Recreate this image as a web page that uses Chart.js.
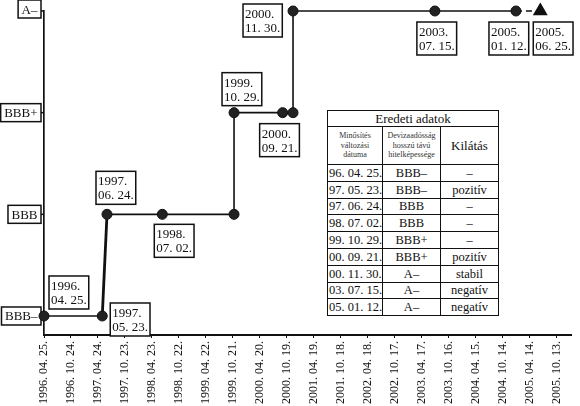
<!DOCTYPE html>
<html>
<head>
<meta charset="utf-8">
<script src="https://cdn.jsdelivr.net/npm/chart.js@4.4.0/dist/chart.umd.min.js"></script>
<style>
html, body { margin: 0; padding: 0; background: #fff; }
#wrap { position: relative; width: 580px; height: 406px; overflow: hidden; }
#tbl {
    position: absolute; left: 327px; top: 110px; width: 171px; height: 205px;
    border-collapse: collapse; table-layout: fixed;
    font-family: "Liberation Serif", "DejaVu Serif", serif; color: #111;
    border: 1.5px solid #111; background: #fff;
}
#tbl td { border: 1px solid #111; padding: 0 1px; text-align: center; font-size: 12.5px; line-height: 14px; white-space: nowrap; overflow: hidden; }
#tbl td.d { text-align: left; }
#tbl tr.head td { font-size: 13px; height: 15px; }
#tbl tr.sub td { height: 37px; font-size: 8px; line-height: 9.5px; color: #333; }
#tbl tr.sub td.big { font-size: 13px; line-height: 14px; color: #111; }
#tbl tr.row td { height: 15.8px; }
</style>
</head>
<body>
<div id="wrap">
    <canvas id="chart" width="580" height="406"></canvas>
    <table id="tbl"></table>
</div>
<script>
// rating levels, bottom to top
const ratingLevels = ['BBB–', 'BBB', 'BBB+', 'A–'];

// drawn rating path (dates where the line bends)
const seriesDates = ['1996-04-25', '1997-05-23', '1997-06-24', '1998-07-02', '1999-10-29', '1999-10-29',
    '2000-09-21', '2000-11-30', '2000-11-30', '2003-07-15', '2005-01-12'];
const seriesRatings = ['BBB–', 'BBB–', 'BBB', 'BBB', 'BBB', 'BBB+', 'BBB+', 'BBB+', 'A–', 'A–', 'A–'];

// expected rating (dashed part with triangle)
const forecastDates = ['2005-01-12', '2005-06-25'];
const forecastRatings = ['A–', 'A–'];

// x axis ticks
const tickDates = ['1996-04-25', '1996-10-24', '1997-04-24', '1997-10-23', '1998-04-23', '1998-10-22',
    '1999-04-22', '1999-10-21', '2000-04-20', '2000-10-19', '2001-04-19', '2001-10-18', '2002-04-18',
    '2002-10-17', '2003-04-17', '2003-10-16', '2004-04-15', '2004-10-14', '2005-04-14', '2005-10-13'];
const tickLabels = ['1996. 04. 25.', '1996. 10. 24.', '1997. 04. 24.', '1997. 10. 23.', '1998. 04. 23.',
    '1998. 10. 22.', '1999. 04. 22.', '1999. 10. 21.', '2000. 04. 20.', '2000. 10. 19.', '2001. 04. 19.',
    '2001. 10. 18.', '2002. 04. 18.', '2002. 10. 17.', '2003. 04. 17.', '2003. 10. 16.', '2004. 04. 15.',
    '2004. 10. 14.', '2005. 04. 14.', '2005. 10. 13.'];

// boxed date labels next to the points
const calloutDates = ['1996-04-25', '1997-05-23', '1997-06-24', '1998-07-02', '1999-10-29',
    '2000-09-21', '2000-11-30', '2003-07-15', '2005-01-12', '2005-06-25'];
const calloutRatings = ['BBB–', 'BBB–', 'BBB', 'BBB', 'BBB+', 'BBB+', 'A–', 'A–', 'A–', 'A–'];
const calloutLabels = [['1996.', '04. 25.'], ['1997.', '05. 23.'], ['1997.', '06. 24.'], ['1998.', '07. 02.'],
    ['1999.', '10. 29.'], ['2000.', '09. 21.'], ['2000.', '11. 30.'], ['2003.', '07. 15.'],
    ['2005.', '01. 12.'], ['2005.', '06. 25.']];

// table "Eredeti adatok"
const tableDates = ['96. 04. 25.', '97. 05. 23.', '97. 06. 24.', '98. 07. 02.', '99. 10. 29.',
    '00. 09. 21.', '00. 11. 30.', '03. 07. 15.', '05. 01. 12.'];
const tableRatings = ['BBB–', 'BBB–', 'BBB', 'BBB', 'BBB+', 'BBB+', 'A–', 'A–', 'A–'];
const tableOutlooks = ['–', 'pozitív', '–', '–', '–', 'pozitív', 'stabil', 'negatív', 'negatív'];

// box offsets from their point (layout only)
const calloutOffsets = [[5, -40], [8, -13], [-11, -43], [-8, 10], [-12, -40],
    [-23, 11], [-50, -7], [-18, 11], [-27, 11], [-7, 11]];

const FONT = '"Liberation Serif", "DejaVu Serif", serif';
const start = Date.UTC(1996, 3, 25);
function dayNum(s) {
    const p = s.split('-');
    return (Date.UTC(+p[0], +p[1] - 1, +p[2]) - start) / 86400000;
}
function level(r) { return ratingLevels.indexOf(r); }

// build the table
const tbl = document.getElementById('tbl');
let html = '<colgroup><col style="width:55px"><col style="width:58px"><col style="width:58px"></colgroup>';
html += '<tr class="head"><td colspan="3">Eredeti adatok</td></tr>';
html += '<tr class="sub"><td>Minősítés<br>változási<br>dátuma</td><td>Devizaadósság<br>hosszú távú<br>hitelképessége</td><td class="big">Kilátás</td></tr>';
tableDates.forEach(function (d, i) {
    html += '<tr class="row"><td class="d">' + d + '</td><td>' + tableRatings[i] + '</td><td>' + tableOutlooks[i] + '</td></tr>';
});
tbl.innerHTML = html;

function drawBox(ctx, x, y, w, h) {
    ctx.fillStyle = '#fff';
    ctx.fillRect(x, y, w, h);
    ctx.strokeStyle = '#111';
    ctx.lineWidth = 1.5;
    ctx.strokeRect(x, y, w, h);
}

const boxPlugin = {
    id: 'boxes',
    beforeDatasetsDraw: function (chart) {
        const ctx = chart.ctx;
        const xs = chart.scales.x, ys = chart.scales.y;
        ctx.save();
        ctx.textBaseline = 'alphabetic';

        // rating labels on the y axis
        ctx.font = '13px ' + FONT;
        ratingLevels.forEach(function (r, i) {
            const py = ys.getPixelForValue(i) + (i === 3 ? -2 : 0);
            const w = ctx.measureText(r).width + 7;
            const right = xs.left - 3;
            ctx.strokeStyle = '#111';
            ctx.lineWidth = 1.5;
            ctx.beginPath();
            ctx.moveTo(right, ys.getPixelForValue(i));
            ctx.lineTo(xs.left, ys.getPixelForValue(i));
            ctx.stroke();
            drawBox(ctx, right - w, py - 9, w, 18);
            ctx.fillStyle = '#111';
            ctx.textAlign = 'center';
            ctx.fillText(r, right - w / 2, py + 4.5);
        });

        // date callouts
        ctx.font = '13px ' + FONT;
        calloutDates.forEach(function (d, i) {
            const px = xs.getPixelForValue(dayNum(d));
            const py = ys.getPixelForValue(level(calloutRatings[i]));
            const lines = calloutLabels[i];
            const w = Math.max.apply(null, lines.map(function (t) { return ctx.measureText(t).width; })) + 4;
            const bx = px + calloutOffsets[i][0];
            const by = py + calloutOffsets[i][1];
            drawBox(ctx, bx, by, w, 33);
            ctx.fillStyle = '#111';
            ctx.textAlign = 'left';
            ctx.fillText(lines[0], bx + 2, by + 14);
            ctx.fillText(lines[1], bx + 2, by + 28);
        });
        ctx.restore();
    }
};

const ctx = document.getElementById('chart').getContext('2d');
new Chart(ctx, {
    type: 'line',
    data: {
        datasets: [{
            data: seriesDates.map(function (d, i) { return { x: dayNum(d), y: level(seriesRatings[i]) }; }),
            borderColor: '#111',
            borderWidth: 1.6,
            segment: {
                borderWidth: function (c) { return c.p0DataIndex === 1 ? 2.8 : 1.6; }
            },
            pointRadius: 5,
            pointBackgroundColor: '#222',
            pointBorderColor: '#111',
            pointBorderWidth: 1,
            tension: 0,
            clip: false
        }, {
            data: forecastDates.map(function (d, i) { return { x: dayNum(d), y: level(forecastRatings[i]) }; }),
            borderColor: '#111',
            borderWidth: 1.6,
            borderDash: [6, 4],
            pointStyle: 'triangle',
            pointRadius: [0, 7],
            pointBackgroundColor: '#111',
            pointBorderColor: '#111',
            tension: 0,
            clip: false
        }]
    },
    options: {
        responsive: false,
        animation: false,
        layout: { padding: { left: 44, top: 11, right: 2, bottom: 0 } },
        plugins: {
            legend: { display: false },
            tooltip: { enabled: false }
        },
        scales: {
            x: {
                type: 'linear',
                min: 0,
                max: 3558,
                afterBuildTicks: function (s) {
                    s.ticks = tickDates.map(function (d) { return { value: dayNum(d) }; });
                },
                afterFit: function (s) { s.height = 71; },
                border: { display: true, color: '#111', width: 2 },
                grid: { display: true, drawOnChartArea: false, drawTicks: true, tickLength: 3, color: '#111', lineWidth: 1 },
                ticks: {
                    autoSkip: false,
                    minRotation: 90,
                    maxRotation: 90,
                    padding: 3,
                    color: '#111',
                    font: { family: FONT, size: 12 },
                    callback: function (v, i) { return tickLabels[i]; }
                }
            },
            y: {
                type: 'linear',
                min: -0.187,
                max: 3,
                afterFit: function (s) { s.width = 0; },
                border: { display: true, color: '#111', width: 1.7 },
                grid: { display: false },
                ticks: { display: false }
            }
        }
    },
    plugins: [boxPlugin]
});
</script>
</body>
</html>
